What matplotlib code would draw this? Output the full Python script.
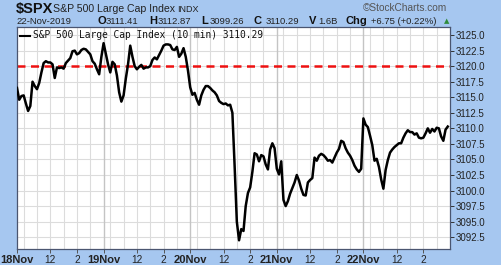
import matplotlib
matplotlib.use("Agg")
import matplotlib.pyplot as plt
import numpy as np

# ---- data (10-minute closes, 39 bars per session) ----
days = ["18Nov", "19Nov", "20Nov", "21Nov", "22Nov"]
bars_per_day = 39
day1 = [3116.5, 3114.6, 3115.2, 3115.3, 3114.0, 3112.8, 3113.6, 3117.5, 3116.8, 3116.3,
        3117.3, 3119.0, 3120.5, 3120.8, 3120.6, 3120.6, 3120.3, 3118.1, 3119.8, 3119.7,
        3119.8, 3119.6, 3120.5, 3120.9, 3121.3, 3122.4, 3122.5, 3121.9, 3122.1, 3122.6,
        3122.8, 3122.7, 3122.3, 3121.9, 3120.8, 3120.4, 3119.5, 3118.7, 3121.5]
day2 = [3123.7, 3122.0, 3120.3, 3119.0, 3120.7, 3120.3, 3118.5, 3115.8, 3114.3, 3115.3,
        3118.0, 3120.3, 3123.3, 3121.5, 3120.0, 3119.5, 3119.9, 3120.2, 3119.6, 3119.8,
        3119.8, 3120.0, 3121.0, 3121.4, 3121.1, 3121.8, 3122.5, 3123.3, 3123.5, 3123.5,
        3123.4, 3122.7, 3122.6, 3123.1, 3121.5, 3122.0, 3122.9, 3121.5, 3119.3]
day3 = [3116.6, 3115.4, 3115.7, 3114.6, 3113.8, 3115.3, 3116.2, 3116.8, 3116.8, 3116.5,
        3116.1, 3115.8, 3115.3, 3114.4, 3114.1, 3113.9, 3114.0, 3113.7, 3113.8, 3112.5,
        3104.0, 3095.0, 3092.0, 3093.8, 3093.5, 3097.5, 3099.6, 3100.5, 3103.0, 3106.0,
        3105.8, 3104.7, 3105.7, 3105.5, 3104.2, 3103.4, 3106.6, 3107.6, 3106.8]
day4 = [3103.5, 3102.6, 3104.7, 3098.5, 3097.5, 3098.3, 3099.5, 3100.4, 3101.3, 3102.5,
        3101.6, 3100.3, 3099.3, 3099.2, 3101.3, 3101.7, 3102.0, 3105.3, 3104.8, 3105.6,
        3105.9, 3105.7, 3105.3, 3104.8, 3104.9, 3104.5, 3105.3, 3106.1, 3106.7, 3108.0,
        3107.8, 3106.8, 3106.1, 3105.6, 3104.9, 3104.0, 3103.4, 3103.0, 3103.5]
day5 = [3111.6, 3110.6, 3110.2, 3108.8, 3107.3, 3104.8, 3105.1, 3103.8, 3101.8, 3100.3,
        3103.3, 3104.9, 3106.1, 3106.6, 3107.0, 3107.3, 3107.6, 3107.6, 3108.5, 3109.2,
        3109.7, 3109.4, 3109.4, 3109.0, 3109.2, 3108.5, 3108.4, 3108.5, 3109.2, 3110.0,
        3109.3, 3109.9, 3109.5, 3110.1, 3110.0, 3108.7, 3108.0, 3109.8, 3110.29]
ref_level = 3120.0
y_ticks = [3092.5, 3095.0, 3097.5, 3100.0, 3102.5, 3105.0, 3107.5, 3110.0,
           3112.5, 3115.0, 3117.5, 3120.0, 3122.5, 3125.0]
intraday_labels = ["12", "2"]
intraday_label_bars = [15, 27]
hour_grid_bars = [3, 9, 15, 21, 27, 33]

prices = np.array(day1 + day2 + day3 + day4 + day5)
x = np.arange(len(prices))

W, H = 501, 265
fig = plt.figure(figsize=(W / 100, H / 100), dpi=100)
bg = "#a6c7f0"
fig.patch.set_facecolor(bg)

L, R, T, B = 17, 450, 27, 249
ax = fig.add_axes([L / W, 1 - B / H, (R - L) / W, (B - T) / H])
ax.set_facecolor("white")
ax.set_xlim(0, 195)
ax.set_ylim(3090.6, 3126.3)

# grid
for yt in y_ticks:
    ax.axhline(yt, color="#dcdcdc", lw=0.8, zorder=0)
for d in range(len(days)):
    for hb in hour_grid_bars:
        ax.axvline(d * bars_per_day + hb, color="#dcdcdc", lw=0.8, zorder=0)
    if d > 0:
        ax.axvline(d * bars_per_day, color="#c4c4c4", lw=1.0, zorder=0)

ax.axhline(ref_level, color="#ee1111", lw=1.8, ls=(0, (3.2, 2.2)), zorder=2)
ax.plot(x, prices, color="black", lw=1.8, zorder=3, solid_joinstyle="round")

# axes styling
for s in ax.spines.values():
    s.set_color("#4a5570")
    s.set_linewidth(0.9)
ax.yaxis.tick_right()
ax.set_yticks(y_ticks)
ax.set_yticklabels([f"{v:.1f}" for v in y_ticks], fontsize=7, family="Liberation Sans",
                   color="#222222")
ax.tick_params(axis="y", direction="out", length=3, width=0.7, pad=1, colors="#333333",
               labelcolor="#222222")

xt, xl = [], []
for d, name in enumerate(days):
    xt.append(d * bars_per_day)
    xl.append(name)
    for b, lab in zip(intraday_label_bars, intraday_labels):
        xt.append(d * bars_per_day + b)
        xl.append(lab)
ax.set_xticks(xt)
ax.set_xticklabels(xl, fontsize=7.2, family="Liberation Sans", color="#222222")
for lbl in ax.get_xticklabels():
    if "Nov" in lbl.get_text():
        lbl.set_fontweight("bold")
        lbl.set_fontsize(8)
ax.tick_params(axis="x", length=3, width=0.7, pad=1.5, colors="#555555", labelcolor="#222222")

# legend text inside plot
ax.plot([0.008, 0.030], [0.96, 0.96], transform=ax.transAxes,
        color="black", lw=1.5, zorder=5)
ax.text(0.036, 0.962, "S&P 500 Large Cap Index (10 min) 3110.29", transform=ax.transAxes,
        fontsize=6.9, family="DejaVu Sans Mono", va="center", ha="left", color="#111111",
        zorder=5)

# header
def ftxt(px, py, s, **kw):
    fig.text(px / W, 1 - py / H, s, va="center", ha="left", family="Liberation Sans", **kw)

ftxt(16, 9, "$SPX", fontsize=10.5, fontweight="bold", color="#111111")
ftxt(53, 9, "S&P 500 Large Cap Index", fontsize=7.6, color="#222222")
ftxt(177, 9, "INDX", fontsize=6.5, color="#222222")
ftxt(363, 8, "\u00A9StockCharts.com", fontsize=7.3, color="#555555")

ftxt(16, 21.5, "22-Nov-2019", fontsize=6.8, color="#222222")
parts = [(97, "O", True), (106, "3111.41", False), (149, "H", True), (158, "3112.87", False),
         (201, "L", True), (210, "3099.26", False), (254, "C", True), (266, "3110.29", False),
         (309, "V", True), (318, "1.6B", False), (346, "Chg", True), (371, "+6.75 (+0.22%)", False)]
for px, s, bold in parts:
    if bold:
        ftxt(px, 21.5, s, fontsize=8, fontweight="bold", color="#111111")
    else:
        ftxt(px, 21.5, s, fontsize=6.8, color="#222222")
fig.text(447 / W, 1 - 21.5 / H, "\u25B2", fontsize=5, color="#2e8b3a", va="center", ha="center",
         family="DejaVu Sans")

fig.savefig("out.png", dpi=100, facecolor=bg)
